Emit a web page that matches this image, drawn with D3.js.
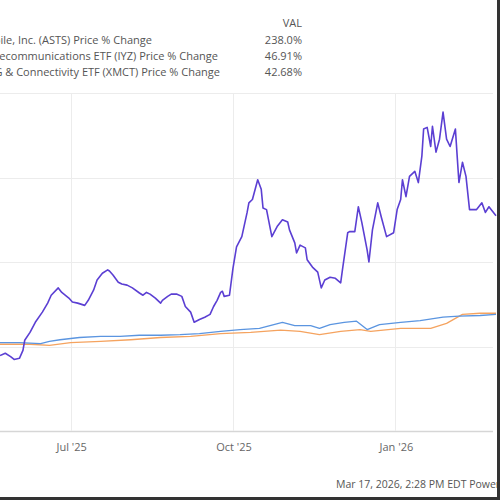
<!DOCTYPE html>
<html>
<head>
  <meta charset="utf-8">
  <script src="https://cdn.jsdelivr.net/npm/d3@7"></script>
  <style>
    body { margin: 0; background: #fff; }
    text { font-family: "Open Sans", "Liberation Sans", sans-serif; }
  </style>
</head>
<body>
<script>
  "use strict";

  // start of the visible window; data days are counted from here
  var startDate = new Date(2025, 4, 22);

  // AST SpaceMobile (purple)
  var astsDays = [0, 3, 6, 8, 11, 13, 14, 17, 20, 24, 27, 29, 33, 35, 39, 41, 44, 48, 50, 53, 55, 58, 61, 62, 64, 67, 69, 72, 75, 79, 81, 83, 85, 88, 91, 92, 95, 97, 100, 103, 105, 108, 110, 113, 116, 119, 121, 123, 125, 126, 127, 130, 132, 134, 137, 140, 141, 143, 146, 148, 149, 151, 154, 157, 160, 163, 164, 167, 168, 170, 173, 174, 177, 180, 182, 184, 187, 190, 193, 194, 197, 198, 201, 203, 205, 208, 209, 211, 214, 216, 219, 223, 225, 227, 228, 230, 232, 235, 237, 239, 240, 242, 244, 245, 247, 249, 251, 253, 255, 258, 259, 260, 262, 264, 266, 270, 273, 275, 277, 281];
  var astsValues = [-16, -12, -18, -23, -21, -7, 11, 25, 43, 61, 77, 91, 104, 96, 86, 79, 77, 73, 82, 100, 118, 130, 136, 134, 127, 114, 111, 109, 104, 95, 91, 96, 93, 86, 77, 82, 89, 93, 93, 89, 71, 61, 43, 48, 52, 57, 71, 82, 96, 98, 89, 91, 139, 177, 195, 238, 255, 261, 296, 279, 246, 243, 195, 213, 225, 221, 207, 184, 166, 180, 175, 154, 141, 132, 104, 118, 123, 121, 113, 136, 202, 204, 204, 248, 220, 171, 150, 207, 255, 230, 195, 202, 243, 261, 296, 266, 302, 311, 291, 338, 386, 389, 355, 391, 345, 368, 416, 368, 355, 386, 338, 291, 327, 302, 243, 243, 255, 238, 248, 232];

  // telecom ETF (blue)
  var iyzDays = [0, 11, 23, 28, 34, 45, 57, 68, 79, 91, 102, 113, 125, 136, 147, 160, 167, 176, 181, 187, 195, 202, 208, 215, 227, 238, 251, 260, 272, 281];
  var iyzValues = [7, 7, 5, 9, 12, 16, 18, 18, 20, 20, 21, 23, 27, 30, 32, 43, 37, 37, 32, 39, 43, 45, 30, 39, 43, 46, 52, 54, 55, 57];

  // connectivity ETF (orange)
  var xmctDays = [0, 17, 28, 40, 57, 74, 91, 108, 125, 142, 159, 170, 181, 193, 204, 210, 227, 244, 253, 262, 272, 281];
  var xmctValues = [4, 4, 2, 7, 9, 12, 16, 18, 23, 25, 29, 27, 21, 27, 30, 27, 32, 32, 41, 57, 59, 59];

  var legendNames = [
    "AST SpaceMobile, Inc. (ASTS) Price % Change",
    "iShares U.S. Telecommunications ETF (IYZ) Price % Change",
    "Global X 5G & Connectivity ETF (XMCT) Price % Change"
  ];
  var legendValues = ["238.0%", "46.91%", "42.68%"];
  var yTicks = [-150, 0, 150, 300, 450];
  var xTicks = [new Date(2025, 6, 1), new Date(2025, 9, 1), new Date(2026, 0, 1)];
  var footer = "Mar 17, 2026, 2:28 PM EDT  Powered by YCharts";

  var width = 500, height = 500;

  var svg = d3.select("body").append("svg")
    .attr("width", width)
    .attr("height", height);

  var x = d3.scaleTime()
    .domain([startDate, d3.timeDay.offset(startDate, 281)])
    .range([0, 496]);

  var y = d3.scaleLinear()
    .domain([-150, 450])
    .range([431, 93]);

  // horizontal grid
  svg.append("g").selectAll("line")
    .data(yTicks)
    .enter().append("line")
    .attr("x1", 0).attr("x2", 493)
    .attr("y1", function(d) { return Math.round(y(d)) + 0.5; })
    .attr("y2", function(d) { return Math.round(y(d)) + 0.5; })
    .attr("stroke", function(d) { return d === -150 ? "#d6d6d6" : "#ececec"; })
    .attr("stroke-width", function(d) { return d === -150 ? 1.5 : 1; });

  // vertical grid
  svg.append("g").selectAll("line")
    .data(xTicks)
    .enter().append("line")
    .attr("x1", function(d) { return Math.round(x(d)) + 0.5; })
    .attr("x2", function(d) { return Math.round(x(d)) + 0.5; })
    .attr("y1", 93).attr("y2", 431)
    .attr("stroke", "#ececec");

  // x axis labels
  svg.append("g").selectAll("text")
    .data(xTicks)
    .enter().append("text")
    .attr("x", function(d) { return x(d) + 1; })
    .attr("y", 451)
    .attr("text-anchor", "middle")
    .attr("fill", "#666")
    .style("font-size", "11px")
    .text(d3.timeFormat("%b '%y"));

  var line = d3.line()
    .x(function(d) { return x(d3.timeDay.offset(startDate, d[0])); })
    .y(function(d) { return y(d[1]); });

  function drawSeries(days, values, color, w) {
    svg.append("path")
      .datum(d3.zip(days, values))
      .attr("fill", "none")
      .attr("stroke", color)
      .attr("stroke-width", w)
      .attr("stroke-linejoin", "round")
      .attr("d", line);
  }

  drawSeries(xmctDays, xmctValues, "#f5a35f", 1.3);
  drawSeries(iyzDays, iyzValues, "#5b95e0", 1.3);
  drawSeries(astsDays, astsValues, "#5b3fd3", 1.6);

  // legend (left part is cut off like the original)
  svg.append("text")
    .attr("x", 302).attr("y", 27)
    .attr("text-anchor", "end")
    .attr("fill", "#555")
    .style("font-size", "11px")
    .text("VAL");

  legendNames.forEach(function(name, i) {
    var ly = 44 + i * 16;
    svg.append("text")
      .attr("x", [152, 218, 220][i]).attr("y", ly)
      .attr("text-anchor", "end")
      .attr("fill", "#555")
      .style("font-size", "11px")
      .text(name);
    svg.append("text")
      .attr("x", 302).attr("y", ly)
      .attr("text-anchor", "end")
      .attr("fill", "#555")
      .style("font-size", "11px")
      .text(legendValues[i]);
  });

  svg.append("text")
    .attr("x", 336).attr("y", 488)
    .attr("fill", "#555")
    .style("font-size", "10.5px")
    .text(footer);

  // dark frame on the right and bottom
  svg.append("rect").attr("x", 497).attr("y", 0).attr("width", 3).attr("height", 500).attr("fill", "#333");
  svg.append("rect").attr("x", 0).attr("y", 497).attr("width", 500).attr("height", 3).attr("fill", "#333");
</script>
</body>
</html>
